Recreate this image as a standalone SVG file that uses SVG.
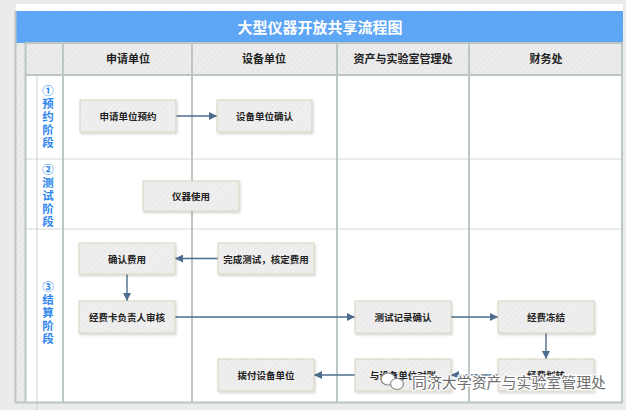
<svg xmlns="http://www.w3.org/2000/svg" width="626" height="410" viewBox="0 0 626 410">
<defs>
<pattern id="hatch" width="4" height="4" patternUnits="userSpaceOnUse" patternTransform="rotate(45)">
<rect width="4" height="4" fill="#ececec"/>
<line x1="0" y1="0" x2="0" y2="4" stroke="#e2e2e2" stroke-width="1.5"/>
</pattern>
<pattern id="bluehatch" width="4" height="4" patternUnits="userSpaceOnUse" patternTransform="rotate(45)">
<rect width="4" height="4" fill="#5ba4f6"/>
<line x1="0" y1="0" x2="0" y2="4" stroke="#66abf7" stroke-width="1.5"/>
</pattern>
<pattern id="nodehatch" width="4" height="4" patternUnits="userSpaceOnUse" patternTransform="rotate(45)">
<rect width="4" height="4" fill="#efefef"/>
<line x1="0" y1="0" x2="0" y2="4" stroke="#e6e6e6" stroke-width="1.5"/>
</pattern>
<marker id="arr" viewBox="0 0 10 10" refX="10" refY="5" markerWidth="8" markerHeight="8" markerUnits="userSpaceOnUse" orient="auto">
<path d="M0,0 L10,5 L0,10 z" fill="#4d6d8c"/>
</marker>
<filter id="sh" x="-10%" y="-10%" width="130%" height="140%">
<feDropShadow dx="1" dy="1.5" stdDeviation="0.8" flood-color="#000" flood-opacity="0.18"/>
</filter>
</defs>
<style>
.title{font-family:"Noto Sans CJK SC","Liberation Sans",sans-serif;font-size:15px;font-weight:bold;fill:#ffffff;text-anchor:middle}
.hdr{font-family:"Noto Sans CJK SC","Liberation Sans",sans-serif;font-size:11px;font-weight:bold;fill:#222;text-anchor:middle}
.phase{font-family:"Noto Sans CJK SC","Liberation Sans",sans-serif;font-size:11.5px;font-weight:bold;fill:#2f86ee;writing-mode:vertical-rl;text-orientation:upright;letter-spacing:1.5px}
.box{fill:url(#nodehatch);stroke:#d9d4c0;stroke-width:1;filter:url(#sh)}
.lbl{font-family:"Noto Sans CJK SC","Liberation Sans",sans-serif;font-size:9.5px;font-weight:bold;fill:#222;text-anchor:middle;dominant-baseline:central}
.col{stroke:#bcc6c4;stroke-width:2;fill:none}
.row{stroke:#d2dad7;stroke-width:1;fill:none}
.edge{stroke:#4d6d8c;stroke-width:1.4;fill:none;marker-end:url(#arr)}
.wm{font-family:"Noto Sans CJK SC","Liberation Sans",sans-serif;font-size:15px;fill:#6e6e6e;stroke:#ffffff;stroke-width:2.5;paint-order:stroke}
</style>
<rect width="626" height="410" fill="#ebebeb"/>
<rect x="16" y="4" width="607" height="8" fill="#ffffff"/>
<g id="frame">
<rect x="15" y="11" width="608" height="392" fill="#ffffff"/>
<rect x="15" y="11" width="608" height="32" fill="url(#bluehatch)"/>
<text class="title" x="320" y="33">大型仪器开放共享流程图</text>
<rect x="15" y="43" width="10" height="360" fill="url(#hatch)"/>
<rect x="25" y="43" width="598" height="32" fill="url(#hatch)"/>
<line class="row" x1="25" y1="159" x2="623" y2="159"/>
<line class="row" x1="25" y1="229" x2="623" y2="229"/>
<line class="col" x1="25" y1="43" x2="623" y2="43" stroke-width="1.5"/>
<line class="col" x1="25" y1="75" x2="623" y2="75"/>
<line x1="37" y1="75" x2="37" y2="410" stroke="#c9d0cd" stroke-width="1"/>
<line class="col" x1="25.5" y1="43" x2="25.5" y2="403" stroke-width="1.2"/>
<line class="col" x1="63" y1="43" x2="63" y2="403"/>
<line class="col" x1="192" y1="43" x2="192" y2="403"/>
<line class="col" x1="337" y1="43" x2="337" y2="403"/>
<line class="col" x1="469" y1="43" x2="469" y2="403"/>
<line class="col" x1="622" y1="43" x2="622" y2="403"/>
<line class="col" x1="15" y1="402.5" x2="623" y2="402.5" stroke-width="1.5"/>
<line class="col" x1="15.5" y1="11" x2="15.5" y2="403" stroke-width="1"/>
</g>
<g id="headers">
<text class="hdr" x="128" y="63">申请单位</text>
<text class="hdr" x="264" y="63">设备单位</text>
<text class="hdr" x="403" y="63">资产与实验室管理处</text>
<text class="hdr" x="546" y="63">财务处</text>
</g>
<g id="phase1"><text class="phase" x="48" y="84.5">①预约阶段</text></g>
<g id="phase2"><text class="phase" x="48" y="164">②测试阶段</text></g>
<g id="phase3"><text class="phase" x="48" y="281">③结算阶段</text></g>
<g id="connectors">
<line class="edge" x1="176" y1="116" x2="217" y2="116"/>
<line class="edge" x1="218" y1="258.5" x2="175" y2="258.5"/>
<line class="edge" x1="127" y1="274" x2="127" y2="301"/>
<line class="edge" x1="175" y1="317" x2="355" y2="317"/>
<line class="edge" x1="451" y1="317" x2="498" y2="317"/>
<line class="edge" x1="546" y1="333" x2="546" y2="359"/>
<line class="edge" x1="498" y1="375" x2="451" y2="375"/>
<line class="edge" x1="355" y1="375" x2="314" y2="375"/>
</g>
<g id="n1"><rect class="box" x="80" y="100" width="96" height="32"/><text class="lbl" x="128" y="116">申请单位预约</text></g>
<g id="n2"><rect class="box" x="217" y="100" width="95" height="32"/><text class="lbl" x="264.5" y="116">设备单位确认</text></g>
<g id="n3"><rect class="box" x="143" y="181" width="96" height="30"/><text class="lbl" x="191" y="196">仪器使用</text></g>
<g id="n4"><rect class="box" x="79" y="243" width="96" height="31"/><text class="lbl" x="127" y="258.5">确认费用</text></g>
<g id="n5"><rect class="box" x="218" y="243" width="96" height="31"/><text class="lbl" x="266" y="258.5">完成测试，核定费用</text></g>
<g id="n6"><rect class="box" x="79" y="301" width="96" height="32"/><text class="lbl" x="127" y="317">经费卡负责人审核</text></g>
<g id="n7"><rect class="box" x="355" y="301" width="96" height="32"/><text class="lbl" x="403" y="317">测试记录确认</text></g>
<g id="n8"><rect class="box" x="498" y="301" width="96" height="32"/><text class="lbl" x="546" y="317">经费冻结</text></g>
<g id="n9"><rect class="box" x="498" y="359" width="96" height="32"/><text class="lbl" x="546" y="375">经费划转</text></g>
<g id="n10"><rect class="box" x="355" y="359" width="96" height="32"/><text class="lbl" x="403" y="375">与设备单位对账</text></g>
<g id="n11"><rect class="box" x="218" y="359" width="96" height="32"/><text class="lbl" x="266" y="375">拨付设备单位</text></g>
<g id="watermark">
<ellipse cx="388" cy="379" rx="7" ry="6" fill="#ffffff" stroke="#8a8a8a" stroke-width="1.2"/>
<ellipse cx="397" cy="384" rx="6.5" ry="5.5" fill="#ffffff" stroke="#8a8a8a" stroke-width="1.2"/>
<text class="wm" x="412" y="388" textLength="194" lengthAdjust="spacingAndGlyphs">同济大学资产与实验室管理处</text>
</g>
</svg>
